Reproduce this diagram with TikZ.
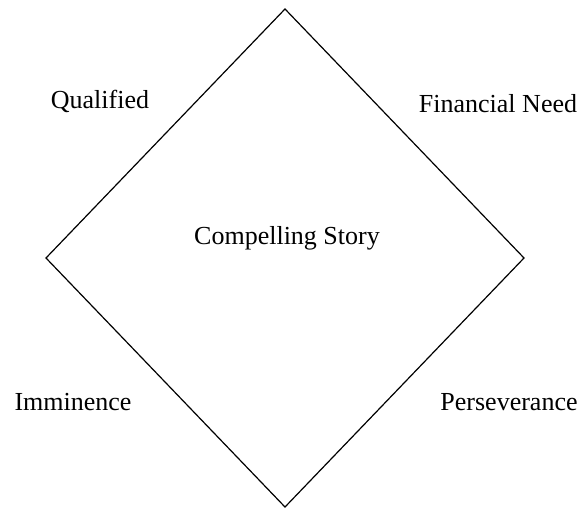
\documentclass[tikz,border=0pt]{standalone}
\usepackage{fontspec}
\setmainfont{Liberation Serif}
\usetikzlibrary{calc}

\tikzset{
	label/.style = {font=\fontsize{13}{15}\selectfont, inner sep=0pt}
}

\begin{document}
\begin{tikzpicture}[x=0.5pt, y=-0.5pt]
		\def\cx{285};
		\def\cy{258};
		\def\w{239};
		\def\h{249};
		
		\useasboundingbox (0,0) rectangle (582,508);
		
		\coordinate (top) at (\cx,\cy-\h);
		\coordinate (left) at (\cx-\w,\cy);
		\coordinate (bottom) at (\cx,\cy+\h);
		\coordinate (right) at (\cx+\w,\cy);
		
		\draw [line width = 0.6pt, line join = miter] (top) -- (right) -- (bottom) -- (left) -- cycle;
		
		\node [label] (story) at (287,238) {Compelling Story};
		\node [label] (qualified) at (100,101) {Qualified};
		\node [label] (need) at (498,104) {Financial Need};
		\node [label] (imminence) at (73,402) {Imminence};
		\node [label] (perseverance) at (509,402) {Perseverance};
	\end{tikzpicture}
\end{document}
